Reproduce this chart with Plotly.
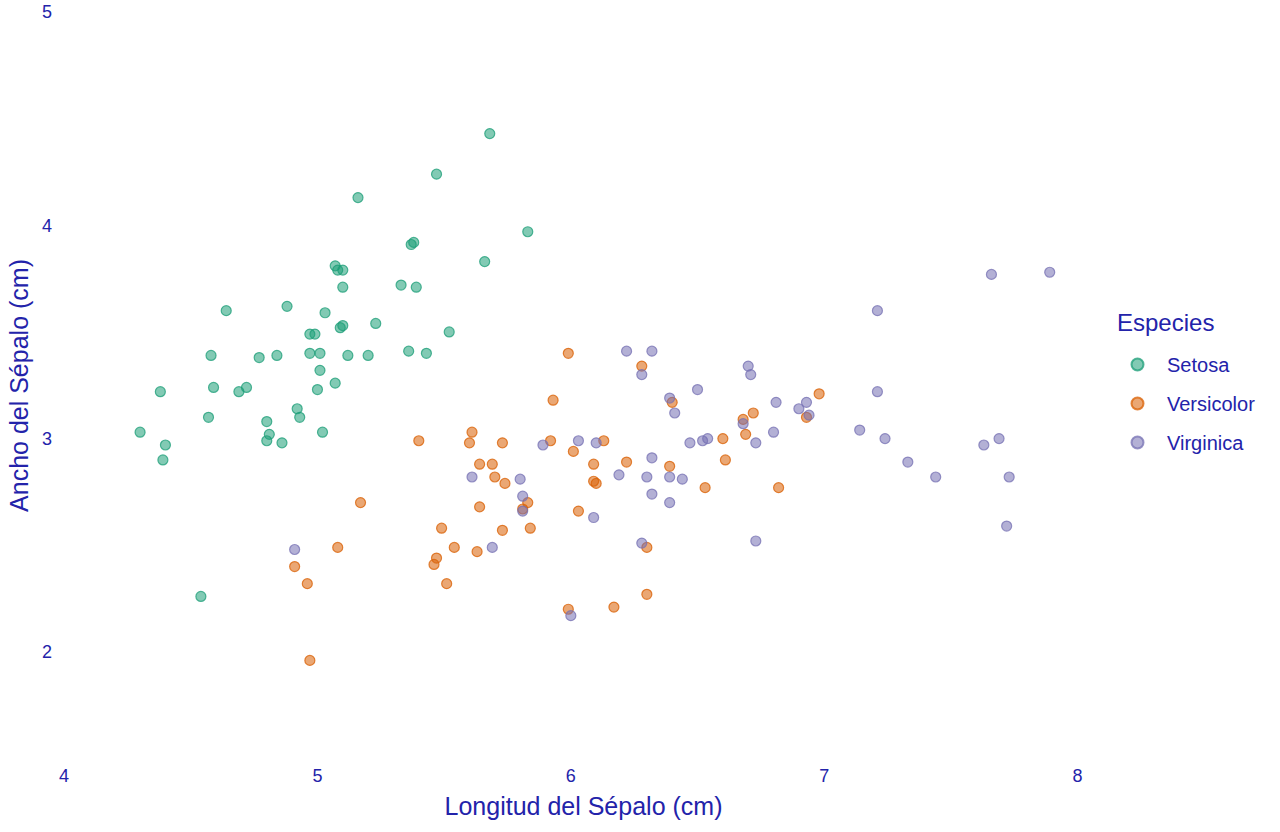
import plotly.graph_objects as go

# Iris (con jitter)
setosa_x = [4.30, 4.38, 4.40, 4.39, 4.54, 4.57, 4.58, 4.59, 4.64, 4.69,
            4.72, 4.77, 4.80, 4.81, 4.80, 4.84, 4.86, 4.88, 4.92, 4.93,
            4.97, 4.99, 4.97, 5.01, 5.00, 5.01, 5.03, 5.02, 5.07, 5.08,
            5.07, 5.10, 5.10, 5.09, 5.10, 5.12, 5.16, 5.20, 5.23, 5.33,
            5.36, 5.37, 5.38, 5.39, 5.43, 5.47, 5.52, 5.66, 5.68, 5.83]
setosa_y = [3.03, 3.22, 2.97, 2.90, 2.26, 3.10, 3.39, 3.24, 3.60, 3.22,
            3.24, 3.38, 3.08, 3.02, 2.99, 3.39, 2.98, 3.62, 3.14, 3.10,
            3.49, 3.49, 3.40, 3.40, 3.23, 3.32, 3.59, 3.03, 3.81, 3.79,
            3.26, 3.79, 3.71, 3.52, 3.53, 3.39, 4.13, 3.39, 3.54, 3.72,
            3.41, 3.91, 3.92, 3.71, 3.40, 4.24, 3.50, 3.83, 4.43, 3.97]

versicolor_x = [4.97, 4.91, 4.96, 5.08, 5.17, 5.40, 5.46, 5.47, 5.49, 5.51,
                5.54, 5.60, 5.61, 5.63, 5.64, 5.64, 5.69, 5.70, 5.73, 5.73,
                5.74, 5.83, 5.84, 5.92, 5.93, 5.99, 5.99, 6.01, 6.03, 6.09,
                6.09, 6.10, 6.13, 6.17, 6.22, 6.28, 6.30, 6.30, 6.39, 6.40,
                6.53, 6.60, 6.61, 6.68, 6.69, 6.72, 6.82, 6.93, 6.98, 5.81]
versicolor_y = [1.96, 2.40, 2.32, 2.49, 2.70, 2.99, 2.41, 2.44, 2.58, 2.32,
                2.49, 2.98, 3.03, 2.47, 2.88, 2.68, 2.88, 2.82, 2.98, 2.57,
                2.79, 2.70, 2.58, 2.99, 3.18, 3.40, 2.20, 2.94, 2.66, 2.88,
                2.80, 2.79, 2.99, 2.21, 2.89, 3.34, 2.49, 2.27, 2.87, 3.17,
                2.77, 3.00, 2.90, 3.09, 3.02, 3.12, 2.77, 3.10, 3.21, 2.67]

virginica_x = [4.91, 5.61, 5.69, 5.80, 5.81, 5.81, 5.89, 6.00, 6.03, 6.09,
               6.10, 6.19, 6.22, 6.28, 6.28, 6.30, 6.32, 6.32, 6.32, 6.39,
               6.39, 6.39, 6.41, 6.44, 6.47, 6.50, 6.52, 6.54, 6.68, 6.70,
               6.71, 6.73, 6.73, 6.80, 6.81, 6.90, 6.93, 6.94, 7.14, 7.21,
               7.21, 7.24, 7.33, 7.44, 7.63, 7.66, 7.69, 7.72, 7.73, 7.89]
virginica_y = [2.48, 2.82, 2.49, 2.81, 2.66, 2.73, 2.97, 2.17, 2.99, 2.63,
               2.98, 2.83, 3.41, 3.30, 2.51, 2.82, 2.74, 3.41, 2.91, 3.19,
               2.70, 2.82, 3.12, 2.81, 2.98, 3.23, 2.99, 3.00, 3.07, 3.34,
               3.30, 2.98, 2.52, 3.03, 3.17, 3.14, 3.17, 3.11, 3.04, 3.60,
               3.22, 3.00, 2.89, 2.82, 2.97, 3.77, 3.00, 2.59, 2.82, 3.78]

species = ["Setosa", "Versicolor", "Virginica"]
colors = [(27, 158, 119), (217, 95, 2), (117, 112, 179)]
xs = [setosa_x, versicolor_x, virginica_x]
ys = [setosa_y, versicolor_y, virginica_y]

azul = "rgb(35,35,170)"
fuente = "Liberation Sans, Arial, sans-serif"

fig = go.Figure()
for name, (r, g, b), x, y in zip(species, colors, xs, ys):
    fig.add_trace(go.Scatter(
        x=x, y=y, mode="markers", name=name, legendgroup=name,
        marker=dict(size=10, color=f"rgba({r},{g},{b},0.55)",
                    line=dict(width=1.2, color=f"rgba({r},{g},{b},0.75)")),
    ))

fig.update_layout(
    width=1280, height=832,
    paper_bgcolor="white", plot_bgcolor="white",
    margin=dict(l=59, r=172, t=8, b=69),
    font=dict(family=fuente, color=azul),
    xaxis=dict(range=[3.98, 8.12], tickvals=[4, 5, 6, 7, 8], showgrid=False,
               zeroline=False, showline=False, ticks="", automargin=False,
               ticklabeloverflow="allow",
               tickfont=dict(size=18, color=azul),
               title=dict(text="Longitud del Sépalo (cm)", standoff=12,
                          font=dict(size=25, color=azul))),
    yaxis=dict(range=[1.479, 5.019], tickvals=[2, 3, 4, 5], showgrid=False,
               zeroline=False, showline=False, ticks="", automargin=False,
               ticklabelstandoff=6, ticklabeloverflow="allow",
               tickfont=dict(size=18, color=azul),
               title=dict(text="Ancho del Sépalo (cm)", standoff=6,
                          font=dict(size=25, color=azul))),
    legend=dict(x=1.0, xanchor="left", y=0.5536, yanchor="top",
                font=dict(size=20, color=azul), tracegroupgap=10,
                itemwidth=49, itemsizing="constant"),
    annotations=[dict(text="Especies", xref="paper", yref="paper",
                      x=1.007, y=0.563, xanchor="left", yanchor="bottom",
                      showarrow=False, font=dict(size=24, color=azul))],
)

# sin el margen por defecto del <body>, para que la figura empiece en 0,0
fig.write_html("out.html", config={"displayModeBar": False},
               post_script="document.body.style.margin='0';")
